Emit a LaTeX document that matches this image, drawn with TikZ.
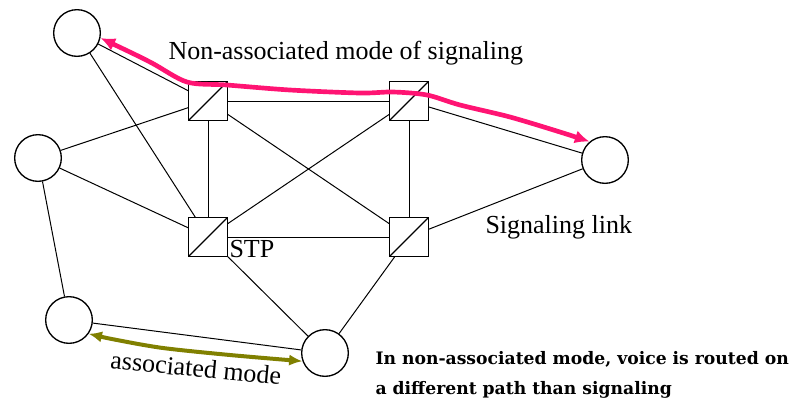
\documentclass[tikz,border=0pt]{standalone}
\usepackage{fontspec}
\setmainfont{Liberation Serif}
\newfontfamily\notefont{DejaVu Serif}
\usetikzlibrary{arrows.meta}
\tikzset{every picture/.style={line width=0.75pt}}
\definecolor{sigpink}{RGB}{255,20,115}
\definecolor{assocolive}{RGB}{128,128,0}

\begin{document}
\begin{tikzpicture}[x=0.75pt,y=0.75pt,yscale=-1,xscale=1,
  sp/.style={draw,circle,line width=1pt,minimum size=35pt,inner sep=0pt},
  stp/.style={draw,rectangle,line width=1pt,minimum size=29pt,inner sep=0pt,
    path picture={\draw[line width=1pt] (path picture bounding box.south west) -- (path picture bounding box.north east);}},
  lbl/.style={inner sep=0pt,font=\fontsize{19.5}{23}\selectfont},
  note/.style={inner sep=0pt,font=\notefont\bfseries\fontsize{12.9}{15}\selectfont},
  sigpath/.style={draw=sigpink,line width=3.5pt,line cap=round,{Latex[length=11pt,width=10pt]}-{Latex[length=11pt,width=10pt]}},
  assocpath/.style={draw=assocolive,line width=3pt,line cap=round,{Latex[length=10pt,width=8.5pt]}-{Latex[length=10pt,width=8.5pt]}}
]
\path[use as bounding box] (0,0) rectangle (793,405);

%Shape: Circle (signaling points)
\node[sp] (spA) at (77,33) {};
\node[sp] (spB) at (38,158) {};
\node[sp] (spC) at (69,320) {};
\node[sp] (spD) at (325,353) {};
\node[sp] (spE) at (605,160) {};

%Shape: Square (STPs)
\node[stp] (stpA) at (208,101) {};
\node[stp] (stpB) at (409,101) {};
\node[stp] (stpC) at (208,237) {};
\node[stp] (stpD) at (409,237) {};

%Straight Lines
\draw (spA) -- (stpA);
\draw (spA) -- (stpC);
\draw (spB) -- (stpA);
\draw (spB) -- (stpC);
\draw (spB) -- (spC);
\draw (spC) -- (spD);
\draw (stpA) -- (stpB);
\draw (stpA) -- (stpC);
\draw (stpA) -- (stpD);
\draw (stpB) -- (stpC);
\draw (stpB) -- (stpD);
\draw (stpB) -- (spE);
\draw (stpC) -- (stpD);
\draw (stpC) -- (spD);
\draw (stpD) -- (spD);
\draw (stpD) -- (spE);

%Curve Lines
\draw[sigpath] plot[smooth,tension=0.5] coordinates {(spA.-12) (150,62) (187,82) (227,85) (290,90) (360,93) (393,92) (427,95) (460,105) (510,117) (560,132) (spE.130)};
\draw[assocpath] plot[smooth,tension=0.5] coordinates {(spC.-35) (117,340) (163,348) (230,355) (spD.-160)};

% Text Node
\node[lbl,anchor=base west] (nonassoc) at (168,59) {Non-associated mode of signaling};
% Text Node
\node[lbl,anchor=base west] (siglink) at (485,233) {Signaling link};
% Text Node
\node[lbl,anchor=base west] (stplbl) at (229,257) {STP};
% Text Node
\node[lbl,rotate=-5.5] (assoc) at (196,368) {associated mode};
% Text Node
\node[note,anchor=base west] (noteA) at (375,364) {In non-associated mode, voice is routed on};
\node[note,anchor=base west] (noteB) at (375,394) {a different path than signaling};

\end{tikzpicture}
\end{document}
